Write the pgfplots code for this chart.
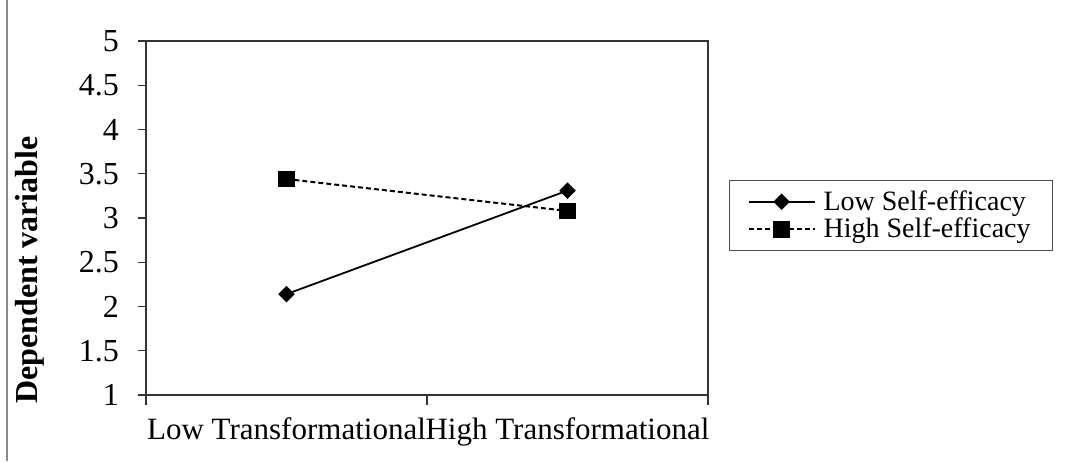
\documentclass[border=0pt]{standalone}
\usepackage{fontspec}
\setmainfont{Liberation Serif}
\usepackage{pgfplots}
\pgfplotsset{compat=1.18}

\pgfplotstableread{
x   y
0.5 2.14
1.5 3.31
}\lowse
\pgfplotstableread{
x   y
0.5 3.44
1.5 3.08
}\highse

\begin{document}
\begin{tikzpicture}
\useasboundingbox (0pt,0pt) rectangle (534pt,230.5pt);
% chart area frame on the left
\draw[black!45, line width=0.8pt] (3.5pt,0pt) -- (3.5pt,230.5pt);
\begin{axis}[
  at={(73pt,33pt)}, anchor=south west,
  scale only axis, width=281pt, height=177pt,
  xmin=0, xmax=2, ymin=1, ymax=5,
  axis line style={black!80, line width=0.8pt},
  /pgf/number format/assume math mode=true,
  ytick={1,1.5,2,2.5,3,3.5,4,4.5,5},
  yticklabels={1,1.5,2,2.5,3,3.5,4,4.5,5},
  xtick={0.5,1.5},
  xticklabels={Low Transformational,High Transformational},
  minor xtick={0,1,2},
  tick align=outside,
  major tick length=4pt,
  minor tick length=5pt,
  x tick style={draw=none},
  minor x tick style={draw=black!80, line width=0.6pt},
  y tick style={black!80, line width=0.6pt},
  xtick pos=bottom, ytick pos=left,
  yticklabel style={anchor=east, xshift=-6pt, font=\fontsize{16}{18}\selectfont},
  xticklabel style={anchor=north, yshift=-4pt, inner xsep=0pt, font=\fontsize{15.5}{17}\selectfont},
  ylabel={\textbf{Dependent variable}},
  ylabel style={at={(axis description cs:-0.206,0.353)}, anchor=center, font=\fontsize{16}{18}\selectfont},
  legend style={
    at={(1.0374,0.407)}, anchor=south west,
    draw=black!70, line width=0.5pt,
    font=\fontsize{14}{15}\selectfont,
    inner xsep=9pt, inner ysep=2.8pt,
    row sep=-1.5pt,
    cells={anchor=west},
  },
  legend image code/.code={
    \draw[mark repeat=2, mark phase=2, #1]
      plot coordinates {(3pt,0pt) (19.5pt,0pt) (36pt,0pt)};
    \path (38pt,0pt);
  },
]
\addplot[black, line width=0.9pt, mark=diamond*, mark size=3.5pt,
  mark options={solid, xscale=1.33}]
  table[x=x, y=y] {\lowse};
\addlegendentry{Low Self-efficacy}
\addplot[black, line width=1pt, dash pattern=on 2.5pt off 1.5pt,
  mark=square*, mark size=3.7pt, mark options={solid}]
  table[x=x, y=y] {\highse};
\addlegendentry{High Self-efficacy}
\end{axis}
\end{tikzpicture}
\end{document}
